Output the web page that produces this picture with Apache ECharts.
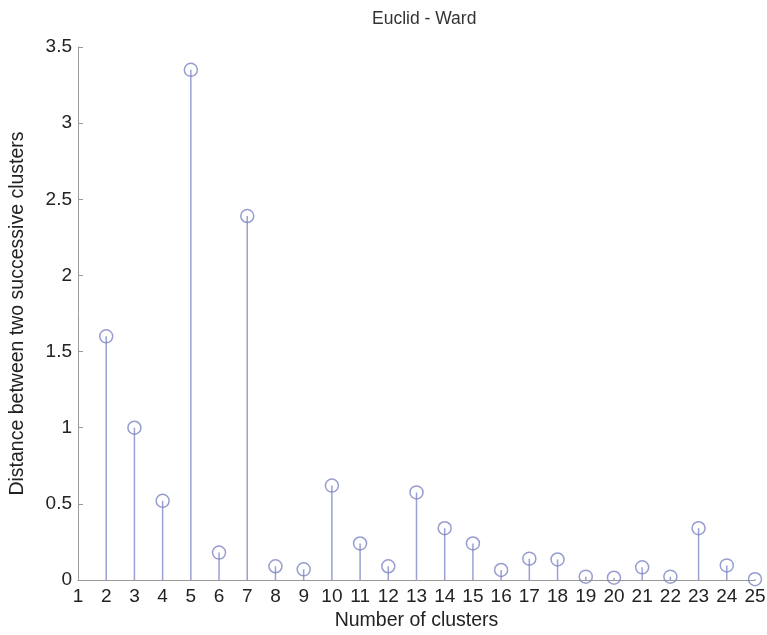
<!DOCTYPE html>
<html>
<head>
<meta charset="utf-8">
<script src="https://cdn.jsdelivr.net/npm/echarts@6/dist/echarts.min.js"></script>
<style>html,body{margin:0;padding:0;background:#fff}#c{width:767px;height:635px}</style>
</head>
<body>
<div id="c"></div>
<script>
var clusters = [2,3,4,5,6,7,8,9,10,11,12,13,14,15,16,17,18,19,20,21,22,23,24,25];
var distances = [1.60,1.00,0.52,3.35,0.18,2.39,0.09,0.07,0.62,0.24,0.09,0.575,0.34,0.24,0.066,0.14,0.135,0.022,0.015,0.083,0.022,0.34,0.096,0.005];
var titleText = 'Euclid - Ward';
var xName = 'Number of clusters';
var yName = 'Distance between two successive clusters';

var pts = clusters.map(function(c,i){return [c, distances[i]];});
var font = 'Liberation Sans, Arial, sans-serif';
var chart = echarts.init(document.getElementById('c'));
chart.setOption({
  animation:false,
  backgroundColor:'#ffffff',
  title:{text:titleText,left:367,top:5,textStyle:{fontFamily:font,fontSize:17.5,fontWeight:'normal',color:'#333'}},
  grid:{left:78,right:12,top:47,bottom:55,outerBoundsMode:'none',containLabel:false},
  xAxis:{type:'value',min:1,max:25,interval:1,
    name:xName,nameLocation:'middle',nameGap:31,
    nameTextStyle:{fontFamily:font,fontSize:19.5,color:'#222'},
    axisLine:{lineStyle:{color:'#999',width:1}},
    axisTick:{show:false},
    splitLine:{show:false},
    axisLabel:{fontFamily:font,fontSize:19,color:'#222',margin:7}},
  yAxis:{type:'value',min:0,max:3.5,interval:0.5,
    name:yName,nameLocation:'middle',nameGap:50,
    nameTextStyle:{fontFamily:font,fontSize:19.5,color:'#222'},
    axisLine:{show:true,lineStyle:{color:'#999',width:1}},
    axisTick:{show:true,inside:true,length:5,lineStyle:{color:'#999'}},
    splitLine:{show:false},
    axisLabel:{fontFamily:font,fontSize:19,color:'#222',margin:6}},
  series:[
    {type:'custom',data:pts,silent:true,
     renderItem:function(params,api){
       var p0=api.coord([api.value(0),0]);
       var p1=api.coord([api.value(0),api.value(1)]);
       return {type:'line',shape:{x1:p0[0],y1:p0[1],x2:p1[0],y2:p1[1]},style:{stroke:'#9aa0d4',lineWidth:1.5}};
     }},
    {type:'scatter',data:pts,symbol:'circle',symbolSize:13,
     itemStyle:{color:'rgba(0,0,0,0)',borderColor:'#7d84c2',borderWidth:1.5}}
  ]
});
</script>
</body>
</html>
